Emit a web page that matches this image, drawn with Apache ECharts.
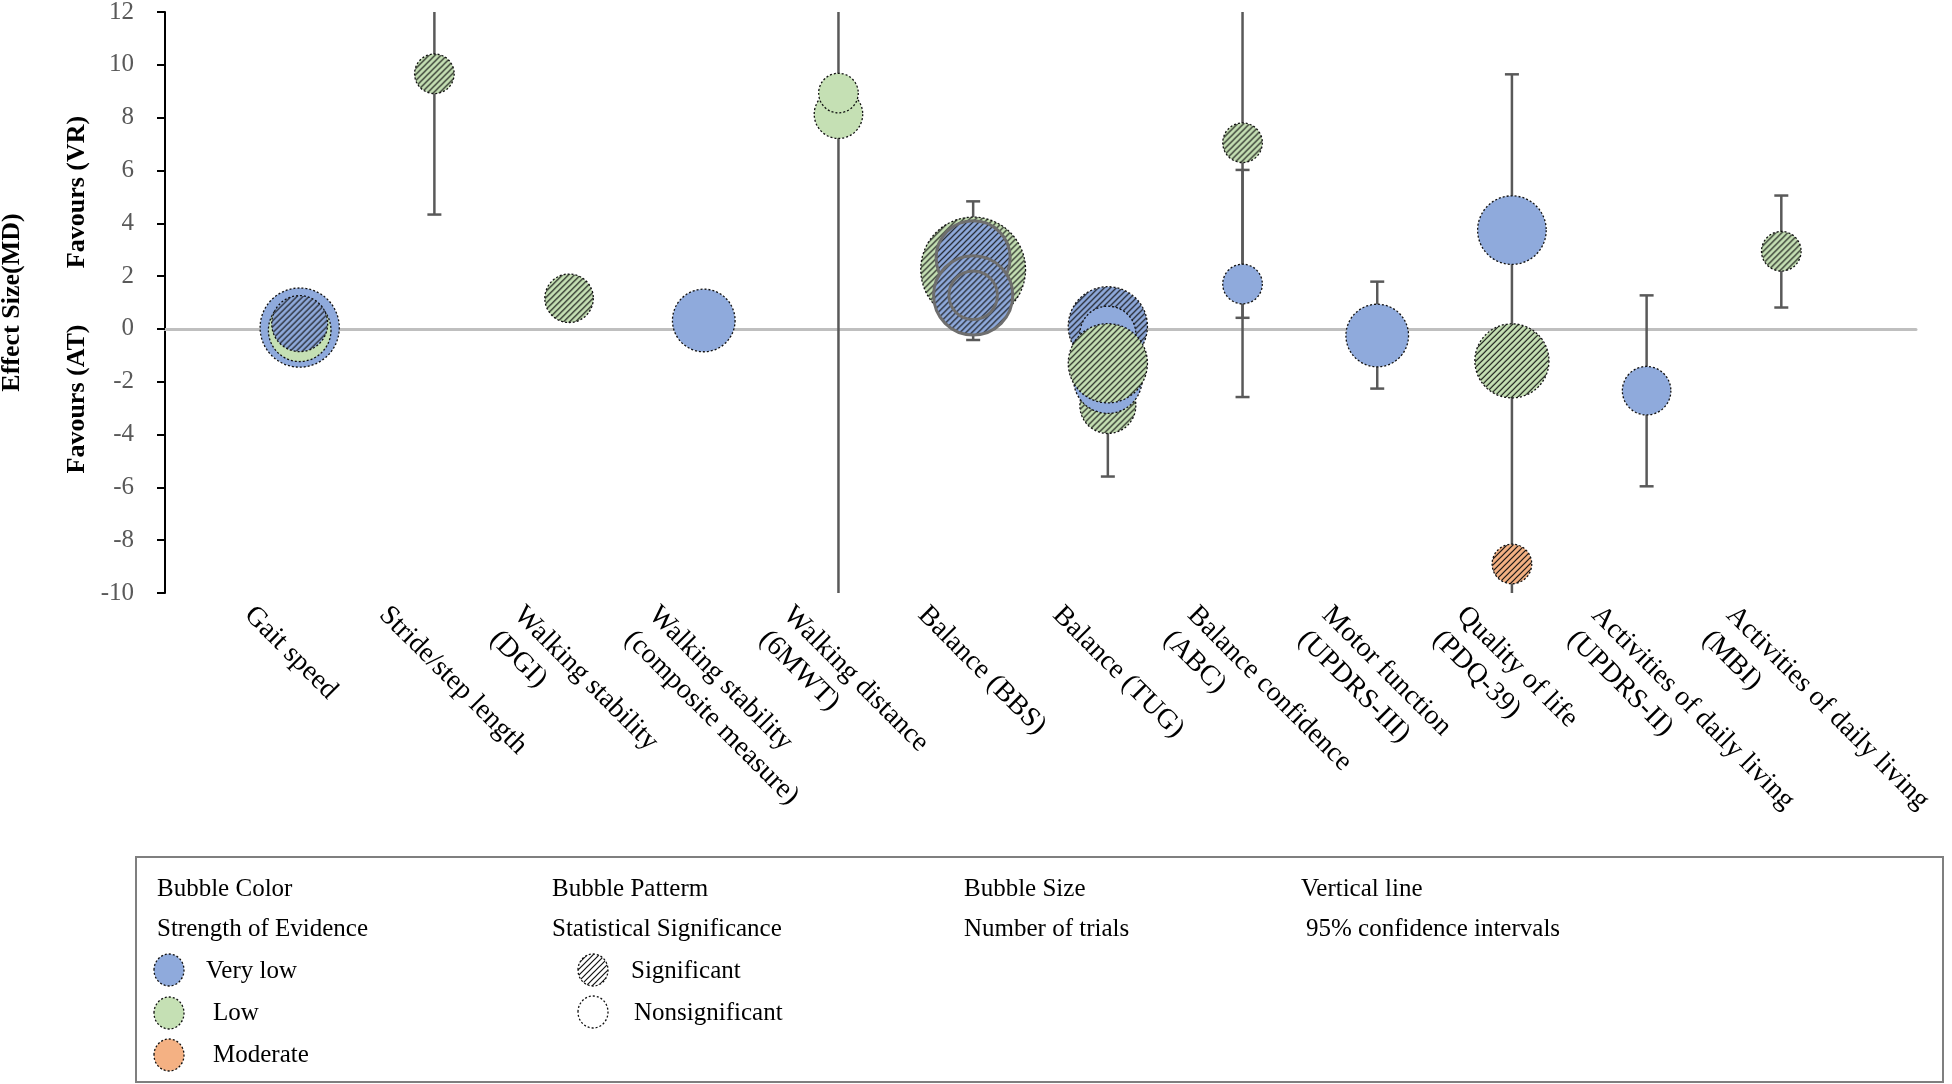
<!DOCTYPE html>
<html>
<head>
<meta charset="utf-8">
<title>Effect size bubble chart</title>
<script src="https://cdn.jsdelivr.net/npm/echarts@6/dist/echarts.min.js"></script>
<style>
  html, body { margin: 0; padding: 0; background: #fff; }
  #chart { width: 1952px; height: 1084px; }
</style>
</head>
<body>
<div id="chart"></div>
<script>
// outcomes along the x axis, placed at 1..12
const categories = [
  'Gait speed',
  'Stride/step length',
  'Walking stability\n(DGI)',
  'Walking stability\n(composite measure)',
  'Walking distance\n(6MWT)',
  'Balance (BBS)',
  'Balance (TUG)',
  'Balance confidence\n(ABC)',
  'Motor function\n(UPDRS-III)',
  'Quality of life\n(PDQ-39)',
  'Activities of daily living\n(UPDRS-II)',
  'Activities of daily living\n(MBI)'
];

// one entry per bubble, in drawing order
const bubbleOutcome = [1, 1, 1, 2, 3, 4, 5, 5, 6, 6, 6, 6, 7, 7, 7, 7, 7, 8, 8, 9, 10, 10, 10, 11, 12];
const bubbleMD = [0.05, -0.05, 0.2, 9.66, 1.16, 0.32, 8.13, 8.93, 2.25, 2.69, 1.27, 1.27,
  0.1, -0.2, -2.9, -1.9, -1.3, 7.05, 1.7, -0.25, 3.74, -1.21, -8.9, -2.34, 2.94];
const bubbleTrials = [8, 5, 4, 2, 3, 5, 3, 2, 14, 7, 8, 3, 8, 4, 4, 6, 8, 2, 2, 5, 6, 7, 2, 3, 2];
const bubbleEvidence = ['Very low', 'Low', 'Very low', 'Low', 'Low', 'Very low', 'Low', 'Low',
  'Low', 'Very low', 'Very low', 'Very low', 'Very low', 'Very low', 'Low', 'Very low', 'Low',
  'Low', 'Very low', 'Very low', 'Very low', 'Low', 'Moderate', 'Very low', 'Low'];
const bubbleSignificant = [false, false, true, true, true, false, false, false, true, true, true, true,
  true, false, true, false, true, true, false, false, false, true, true, false, true];

// 95% confidence intervals
const ciOutcome = [2, 5, 6, 7, 8, 8, 9, 10, 11, 12];
const ciLow = [4.33, -12, -0.42, -5.59, 0.42, -2.58, -2.26, -12.06, -5.96, 0.81];
const ciHigh = [14.99, 29, 4.83, 1.5, 13.68, 6.02, 1.79, 9.64, 1.27, 5.05];

const evidenceColor = { 'Very low': '#8faadc', 'Low': '#c5e0b4', 'Moderate': '#f4b183' };
// BBS bubbles that carry a grey outline in the original
const outlinedBubbles = [9, 10, 11];
const serif = 'Liberation Serif';
const bubbleSize = (trials) => 28 * Math.sqrt(trials);

// diagonal hatch; scatter symbols are drawn in a 2x2 box scaled up to the
// symbol size, so the tile is scaled back down to keep ~6px stripes
function hatch(bg, symbolSize) {
  const c = document.createElement('canvas');
  c.width = 6; c.height = 6;
  const ctx = c.getContext('2d');
  ctx.fillStyle = bg;
  ctx.fillRect(0, 0, 6, 6);
  ctx.strokeStyle = '#111';
  ctx.lineWidth = 1.2;
  ctx.beginPath();
  ctx.moveTo(-1, 7); ctx.lineTo(7, -1);
  ctx.moveTo(-1, 1); ctx.lineTo(1, -1);
  ctx.moveTo(5, 7); ctx.lineTo(7, 5);
  ctx.stroke();
  const s = symbolSize ? 2 / symbolSize : 1;
  return { image: c, repeat: 'repeat', scaleX: s, scaleY: s };
}

const bubbleData = bubbleOutcome.map((x, i) => {
  const base = evidenceColor[bubbleEvidence[i]];
  const outlined = outlinedBubbles.includes(i);
  return {
    value: [x, bubbleMD[i], bubbleTrials[i]],
    itemStyle: {
      color: bubbleSignificant[i] ? hatch(base, bubbleSize(bubbleTrials[i])) : base,
      borderColor: outlined ? '#6e6e6e' : '#111',
      borderWidth: outlined ? 3 : 1.3,
      borderType: outlined ? 'solid' : [2, 2],
      opacity: 1
    }
  };
});

const ciData = ciOutcome.map((x, i) => [x, ciLow[i], ciHigh[i]]);

function legendText(text, x, y) {
  return {
    type: 'text', x, y, z: 10,
    style: { text, fontSize: 25, fontFamily: serif, fill: '#000', align: 'left', verticalAlign: 'middle' }
  };
}
function legendDot(x, y, fill) {
  return {
    type: 'ellipse', z: 10,
    shape: { cx: x, cy: y, rx: 15, ry: 16 },
    style: { fill, stroke: '#111', lineWidth: 1.3, lineDash: [2, 2] }
  };
}

const chart = echarts.init(document.getElementById('chart'));

chart.setOption({
  animation: false,
  backgroundColor: '#fff',
  grid: { left: 165, right: 36, top: 12, bottom: 491, containLabel: false, outerBoundsMode: 'none' },
  xAxis: [
    {
      type: 'value', min: 0, max: 13, position: 'top',
      axisLine: { show: true, onZero: true, lineStyle: { color: '#bfbfbf', width: 3 } },
      axisTick: { show: false },
      axisLabel: { show: false },
      splitLine: { show: false }
    },
    {
      type: 'category', position: 'bottom', boundaryGap: false,
      data: [''].concat(categories, ['']),
      axisLine: { show: false, onZero: false },
      axisTick: { show: false },
      splitLine: { show: false },
      axisLabel: {
        interval: 0, rotate: -45, margin: -33,
        align: 'left', verticalAlign: 'top', padding: [55, 0, 0, 0],
        lineHeight: 34, fontSize: 28, fontFamily: serif, color: '#000'
      }
    }
  ],
  yAxis: {
    type: 'value', min: -10, max: 12, interval: 2,
    axisLine: { show: true, onZero: false, lineStyle: { color: '#000', width: 2 } },
    axisTick: { show: true, length: 8, lineStyle: { color: '#000', width: 2 } },
    axisLabel: { margin: 31, fontSize: 25, fontFamily: serif, color: '#595959' },
    splitLine: { show: false },
    name: 'Effect Size(MD)', nameLocation: 'middle', nameRotate: 90, nameGap: 140,
    nameTextStyle: { fontSize: 26, fontWeight: 'bold', fontFamily: serif, color: '#000' }
  },
  series: [
    {
      type: 'custom',
      xAxisIndex: 0,
      data: ciData,
      clip: true,
      z: 1,
      encode: { x: 0, y: [1, 2] },
      renderItem: (params, api) => {
        const x = api.value(0);
        const lo = api.coord([x, api.value(1)]);
        const hi = api.coord([x, api.value(2)]);
        const cap = 7;
        const style = { stroke: '#595959', lineWidth: 2.5 };
        return {
          type: 'group',
          children: [
            { type: 'line', shape: { x1: lo[0], y1: lo[1], x2: hi[0], y2: hi[1] }, style },
            { type: 'line', shape: { x1: lo[0] - cap, y1: lo[1], x2: lo[0] + cap, y2: lo[1] }, style },
            { type: 'line', shape: { x1: hi[0] - cap, y1: hi[1], x2: hi[0] + cap, y2: hi[1] }, style }
          ]
        };
      }
    },
    {
      type: 'scatter',
      xAxisIndex: 0,
      z: 3,
      data: bubbleData,
      symbolSize: (val) => bubbleSize(val[2]),
      emphasis: { disabled: true }
    }
  ],
  graphic: [
    {
      type: 'text', x: 77, y: 192, rotation: Math.PI / 2,
      style: { text: 'Favours (VR)', fontSize: 26, fontWeight: 'bold', fontFamily: serif, fill: '#000', align: 'center', verticalAlign: 'middle' }
    },
    {
      type: 'text', x: 77, y: 399, rotation: Math.PI / 2,
      style: { text: 'Favours (AT)', fontSize: 26, fontWeight: 'bold', fontFamily: serif, fill: '#000', align: 'center', verticalAlign: 'middle' }
    },
    {
      type: 'rect', z: 9,
      shape: { x: 136, y: 857, width: 1807, height: 225 },
      style: { fill: '#fff', stroke: '#7f7f7f', lineWidth: 2 }
    },
    legendText('Bubble Color', 157, 889),
    legendText('Strength of Evidence', 157, 929),
    legendDot(169, 970, evidenceColor['Very low']),
    legendText('Very low', 206, 971),
    legendDot(169, 1013, evidenceColor['Low']),
    legendText('Low', 213, 1013),
    legendDot(169, 1055, evidenceColor['Moderate']),
    legendText('Moderate', 213, 1055),
    legendText('Bubble Patterm', 552, 889),
    legendText('Statistical Significance', 552, 929),
    legendDot(593, 970, hatch('#fff')),
    legendText('Significant', 631, 971),
    legendDot(593, 1012, '#fff'),
    legendText('Nonsignificant', 634, 1013),
    legendText('Bubble Size', 964, 889),
    legendText('Number of trials', 964, 929),
    legendText('Vertical line', 1301, 889),
    legendText('95% confidence intervals', 1306, 929)
  ]
});
</script>
</body>
</html>
